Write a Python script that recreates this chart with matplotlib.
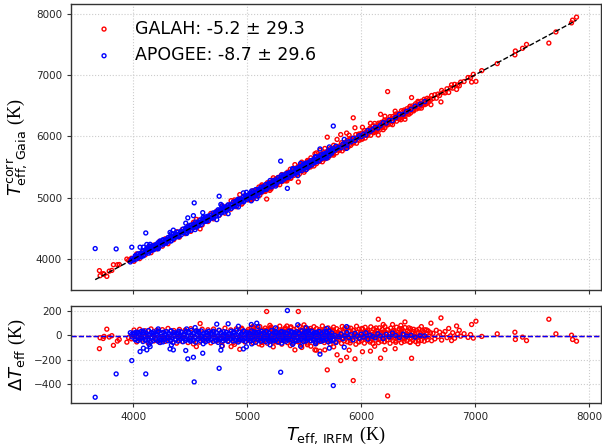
import numpy as np
import matplotlib
matplotlib.use("Agg")
import matplotlib.pyplot as plt

plt.rcParams['mathtext.fontset'] = 'custom'
plt.rcParams['mathtext.it'] = 'DejaVu Sans:italic'
plt.rcParams['mathtext.sf'] = 'DejaVu Sans'
plt.rcParams['mathtext.rm'] = 'Liberation Serif'

# ---- APOGEE (blue): IRFM Teff and dTeff = IRFM - Gaia ----
apogee_irfm_a = [4005, 4027, 4048, 4071, 4092, 4115, 4136, 4160, 4181, 4203,
                 4224, 4247, 4268, 4291, 4313, 4334, 4357, 4379, 4400, 4423,
                 4445, 4466, 4489, 4511, 4532, 4555, 4577, 4598, 4621, 4643,
                 4664, 4687, 4709, 4730, 4753, 4775, 4796, 4819, 4841, 4862,
                 4885, 4907, 4928, 4951, 4973, 4994, 5017, 5039, 5060, 5083,
                 5105, 5126, 5149, 5171, 5192, 5215, 5237, 5258, 5281, 5303,
                 5324, 5347, 5369, 5390, 5413, 5435, 5456, 5479, 5501, 5522,
                 5545, 5567, 5588, 5611, 5633, 5654, 5677, 5699, 5720, 5743]
apogee_dt_a = [18, 25, 12, 31, 22, 15, 38, 20, 27, 11,
               34, 19, 24, 29, 14, 36, 21, 17, 33, 26,
               12, 30, 23, 39, 16, 28, 20, 35, 13, 25,
               31, 18, 27, 22, 40, 15, 29, 24, 11, 33,
               20, 37, 26, 14, 30, 22, 18, 35, 27, 12,
               24, 32, 19, 28, 15, 38, 21, 26, 13, 31,
               23, 17, 34, 25, 20, 29, 14, 36, 22, 27,
               16, 33, 19, 24, 30, 12, 28, 21, 35, 18]

apogee_irfm_b = [4012, 4035, 4057, 4078, 4101, 4123, 4144, 4167, 4189, 4210,
                 4233, 4255, 4276, 4299, 4321, 4342, 4365, 4387, 4408, 4431,
                 4453, 4474, 4497, 4519, 4540, 4563, 4585, 4606, 4629, 4651,
                 4672, 4695, 4717, 4738, 4761, 4783, 4804, 4827, 4849, 4870,
                 4893, 4915, 4936, 4959, 4981, 5002, 5025, 5047, 5068, 5091,
                 5113, 5134, 5157, 5179, 5200, 5223, 5245, 5266, 5289, 5311,
                 5332, 5355, 5377, 5398, 5421, 5443, 5464, 5487, 5509, 5530,
                 5553, 5575, 5596, 5619, 5641, 5662, 5685, 5707, 5728, 5751,
                 5773, 5796]
apogee_dt_b = [-8, -15, 2, -20, -5, -12, 4, -18, -9, -2,
               -24, -11, 0, -16, -7, -21, 3, -13, -6, -19,
               -1, -10, -23, -4, -14, 1, -17, -8, -22, -3,
               -12, 5, -15, -7, -20, -2, -11, -25, -6, -14,
               0, -18, -9, -4, -21, -13, 2, -16, -7, -10,
               -23, -1, -12, -5, -19, 3, -15, -8, -11, -24,
               -3, -17, -6, -13, 1, -20, -9, -2, -14, -22,
               -5, -10, 4, -18, -7, -12, -16, -1, -21, -8,
               -4, -13]

apogee_irfm_c = [4019, 4042, 4063, 4086, 4108, 4130, 4152, 4174, 4196, 4218,
                 4240, 4262, 4284, 4306, 4328, 4350, 4372, 4394, 4416, 4438,
                 4460, 4482, 4504, 4526, 4548, 4570, 4592, 4614, 4636, 4658,
                 4680, 4702, 4724, 4746, 4768, 4790, 4812, 4834, 4856, 4878,
                 4900, 4922, 4944, 4966, 4988, 5010, 5032, 5054, 5076, 5098,
                 5120, 5142, 5164, 5186, 5208, 5230, 5252, 5274, 5296, 5318,
                 5340, 5362, 5384, 5406, 5428, 5450, 5472, 5494, 5516, 5538,
                 5560, 5582, 5604, 5626, 5648, 5670, 5692, 5714, 5736, 5758,
                 5780]
apogee_dt_c = [-38, -45, -32, -52, -41, -36, -58, -43, -34, -49,
               -39, -55, -31, -46, -42, -60, -37, -48, -33, -53,
               -44, -35, -50, -40, -57, -32, -47, -38, -54, -43,
               -36, -51, -41, -59, -34, -46, -39, -52, -31, -48,
               -44, -56, -37, -42, -50, -33, -45, -40, -58, -35,
               -49, -38, -53, -43, -32, -47, -41, -55, -36, -44,
               -51, -39, -34, -57, -46, -42, -37, -52, -48, -33,
               -45, -40, -56, -38, -50, -43, -35, -54, -47, -41,
               -60]

apogee_irfm_d = [4001, 4023, 4045, 4067, 4089, 4111, 4133, 4155, 4177, 4199,
                 4221, 4243, 4265, 4287, 4309, 4331, 4353, 4375, 4397, 4419,
                 4441, 4463, 4485, 4507, 4529, 4551, 4573, 4595, 4617, 4639,
                 4661, 4683, 4705, 4727, 4749, 4771, 4793, 4815, 4837, 4859,
                 4881, 4903, 4925, 4947, 4969, 4991, 5013, 5035, 5057, 5079,
                 5101, 5123, 5145, 5167, 5189, 5211, 5233, 5255, 5277, 5299,
                 5321, 5343, 5365, 5387, 5409, 5431, 5453, 5475, 5497, 5519,
                 5541, 5563, 5585, 5607, 5629, 5651, 5673, 5695, 5717, 5739]
apogee_dt_d = [8, -30, 22, -18, 35, -40, 5, -25, 14, -35,
               28, -12, -38, 10, -22, 32, -5, -33, 19, -15,
               3, -28, 25, -40, 12, -20, 30, -8, -36, 16,
               -26, 6, 33, -17, -39, 21, -3, -31, 11, -24,
               27, -14, -37, 4, 35, -21, 15, -29, -6, 24,
               -34, 9, -19, 31, -27, 1, -38, 18, -11, 26,
               -23, 13, -32, 29, -7, -40, 20, -16, 2, -30,
               34, -9, -25, 17, -36, 7, -20, 28, -13, -4]

apogee_irfm_tail = [5808, 5825, 5841, 5860, 5876, 5893, 5912, 5930, 5948, 5967,
                    5985, 6004, 6022, 6043, 6061, 6082, 6103, 6125, 6148, 6170,
                    6195, 6221, 6248, 6276, 6305, 6337, 6370, 6400, 6438, 6475,
                    6520, 6561]
apogee_dt_tail = [-12, 10, -30, -5, 22, -20, 3, -38, 15, -8,
                  -25, 8, -15, 20, -32, 0, -10, -22, 12, -5,
                  -28, 6, -14, 18, -3, -20, 9, -8, -1, -16,
                  -4, -6]

apogee_irfm_out = [3667, 3851, 3988, 3985, 3993, 3975, 4061, 4090, 4120, 4149,
                   4111, 4140, 4220, 4237, 4324, 4353, 4336, 4462, 4470, 4480,
                   4529, 4536, 4544, 4611, 4615, 4734, 4755, 4770, 4778, 4834,
                   4924, 4968, 4994, 5037, 5041, 5085, 5096, 5202, 5250, 5295,
                   5304, 5354, 5400, 5445, 5470, 5520, 5640, 5722, 5757, 5853,
                   5874, 5700, 5600]
apogee_dt_out = [-506, -316, -207, 5, -15, 20, -134, -106, -120, -93,
                 -316, -75, 51, -60, -112, -120, -80, -125, 51, -193,
                 -180, -381, 62, -147, -70, 90, -270, -122, -90, 93,
                 73, -112, -95, 87, -71, 98, 70, -79, 60, -302,
                 -65, 201, -75, 85, -90, 60, -155, -106, -411, -98,
                 70, 55, -70]

# ---- GALAH (red) ----
galah_irfm_r1 = [5010, 5036, 5061, 5085, 5112, 5137, 5160, 5186, 5211, 5235,
                 5262, 5287, 5310, 5336, 5361, 5385, 5412, 5437, 5460, 5486,
                 5511, 5535, 5562, 5587, 5610, 5636, 5661, 5685, 5712, 5737,
                 5760, 5786, 5811, 5835, 5862, 5887, 5910, 5936, 5961, 5985,
                 6012, 6037, 6060, 6086, 6111, 6135, 6162, 6187, 6210, 6236,
                 6261, 6285, 6312, 6337, 6360, 6386, 6411, 6435, 6462, 6487,
                 6510, 6536, 6561, 6590]
galah_dt_r1 = [45, 62, 38, 55, 70, 41, 58, 49, 66, 36,
               52, 74, 43, 60, 39, 68, 47, 56, 72, 40,
               63, 50, 37, 69, 54, 44, 75, 48, 59, 42,
               66, 53, 38, 71, 46, 61, 57, 40, 73, 49,
               55, 64, 42, 68, 51, 37, 60, 47, 70, 44,
               58, 39, 65, 52, 45, 62, 36, 54, 48, 41,
               50, 38, 44, 35]

galah_irfm_r2 = [5022, 5048, 5073, 5098, 5124, 5149, 5173, 5199, 5223, 5248,
                 5274, 5299, 5323, 5349, 5373, 5398, 5424, 5449, 5473, 5499,
                 5523, 5548, 5574, 5599, 5623, 5649, 5673, 5698, 5724, 5749,
                 5773, 5799, 5823, 5848, 5874, 5899, 5923, 5949, 5973, 5998,
                 6024, 6049, 6073, 6099, 6123, 6148, 6174, 6199, 6223, 6249,
                 6274, 6299, 6323, 6349, 6373, 6398, 6424, 6449, 6473, 6499,
                 6524, 6549, 6575, 6610]
galah_dt_r2 = [12, 28, 7, 21, 33, 15, 9, 26, 18, 31,
               6, 23, 14, 35, 10, 27, 19, 8, 30, 16,
               24, 11, 34, 20, 5, 29, 13, 25, 17, 32,
               9, 22, 15, 28, 7, 34, 19, 12, 26, 21,
               14, 31, 8, 24, 17, 35, 10, 27, 20, 6,
               29, 13, 23, 16, 33, 11, 25, 18, 9, 22,
               15, 27, 12, 20]

galah_irfm_r3 = [5016, 5042, 5067, 5092, 5118, 5143, 5166, 5192, 5217, 5242,
                 5268, 5293, 5316, 5342, 5367, 5392, 5418, 5443, 5466, 5492,
                 5517, 5542, 5568, 5593, 5616, 5642, 5667, 5692, 5718, 5743,
                 5766, 5792, 5817, 5842, 5868, 5893, 5916, 5942, 5967, 5992,
                 6018, 6043, 6066, 6092, 6117, 6142, 6168, 6193, 6216, 6242,
                 6267, 6292, 6318, 6343, 6366, 6392, 6417, 6442, 6468, 6493,
                 6517, 6542, 6568, 6598]
galah_dt_r3 = [-5, -22, -12, -28, -2, -17, -9, -25, -14, -30,
               -7, -19, -1, -26, -11, -21, -4, -15, -29, -8,
               -23, -13, -3, -27, -18, -10, -24, -6, -20, -16,
               -1, -28, -12, -22, -7, -19, -26, -4, -14, -30,
               -9, -21, -3, -25, -16, -11, -29, -6, -18, -13,
               -24, -2, -20, -8, -27, -15, -5, -23, -10, -17,
               -12, -4, -19, -8]

galah_irfm_r4 = [5028, 5054, 5079, 5104, 5130, 5155, 5179, 5205, 5229, 5254,
                 5280, 5305, 5329, 5355, 5379, 5404, 5430, 5455, 5479, 5505,
                 5529, 5554, 5580, 5605, 5629, 5655, 5679, 5704, 5730, 5755,
                 5779, 5805, 5829, 5854, 5880, 5905, 5929, 5955, 5979, 6004,
                 6030, 6055, 6079, 6105, 6129, 6154, 6180, 6205, 6229, 6255,
                 6280, 6305, 6329, 6355, 6379, 6404, 6430, 6455, 6479, 6505,
                 6530, 6555, 6582, 6620]
galah_dt_r4 = [-45, -62, -38, -71, -52, -40, -66, -48, -58, -36,
               -55, -73, -43, -61, -39, -68, -50, -57, -75, -42,
               -64, -47, -37, -70, -53, -44, -60, -49, -72, -41,
               -59, -35, -67, -46, -54, -63, -38, -74, -51, -45,
               -65, -42, -56, -69, -40, -61, -48, -53, -37, -66,
               -44, -58, -39, -62, -50, -46, -55, -41, -52, -47,
               -43, -49, -38, -45]

galah_irfm_r5 = [5003, 5030, 5057, 5082, 5107, 5132, 5157, 5182, 5207, 5232,
                 5257, 5282, 5307, 5332, 5357, 5382, 5407, 5432, 5457, 5482,
                 5507, 5532, 5557, 5582, 5607, 5632, 5657, 5682, 5707, 5732,
                 5757, 5782, 5807, 5832, 5857, 5882, 5907, 5932, 5957, 5982,
                 6007, 6032, 6057, 6082, 6107, 6132, 6157, 6182, 6207, 6232,
                 6257, 6282, 6307, 6332, 6357, 6382, 6407, 6432, 6457, 6482]
galah_dt_r5 = [30, -48, 58, -15, 3, -60, 40, -33, 52, -22,
               -55, 25, -8, 47, -40, 60, -27, 10, -52, 36,
               18, -44, 55, -3, -58, 33, -20, 49, -37, 6,
               42, -50, 14, -29, 57, -12, -46, 38, -1, -56,
               51, -24, 27, -42, 8, 59, -35, 21, -53, 44,
               -18, 35, -47, 12, 53, -30, 2, -59, 29, -10]

galah_irfm_low = [4008, 4031, 4057, 4082, 4106, 4131, 4157, 4182, 4206, 4231,
                  4257, 4282, 4306, 4331, 4357, 4382, 4406, 4431, 4457, 4482,
                  4506, 4531, 4557, 4582, 4606, 4631, 4657, 4682, 4706, 4731,
                  4757, 4782, 4806, 4831, 4857, 4882, 4906, 4931, 4957, 4982]
galah_dt_low = [42, -55, 48, -40, 36, -62, 51, -47, 39, -58,
                45, -50, 55, -44, 38, -65, 47, -52, 41, -60,
                53, -46, 37, -57, 49, -41, 44, -63, 50, -48,
                40, -54, 57, -45, 43, -59, 52, -49, 46, -56]

galah_irfm_hot = [6632, 6648, 6661, 6676, 6690, 6708, 6722, 6738, 6755, 6770,
                  6786, 6805, 6822, 6848, 6875, 6905, 6940, 6962]
galah_dt_hot = [15, -30, 40, -12, 25, -40, 8, 30, -20, 55,
                -5, 20, -25, 10, -8, 12, -18, 5]

galah_irfm_out = [3704, 3710, 3737, 3745, 3769, 3790, 3813, 3827, 3862, 3878,
                  3945, 3960, 3985, 4105, 4529, 4555, 4588, 4783, 4860, 4936,
                  4953, 5172, 5272, 5450, 5500, 5596, 5608, 5640, 5683, 5704,
                  5760, 5790, 5822, 5874, 5896, 5932, 5947, 6013, 6083, 6120,
                  6152, 6172, 6195, 6210, 6234, 6277, 6300, 6350, 6386, 6420,
                  6444, 6500, 6530, 6576, 6614, 6702, 6795, 6839, 6863, 6971,
                  7009, 6986, 7060, 7196, 7351, 7355, 7418, 7453, 7649, 7711,
                  7848, 7857, 7892, 4890, 5130, 5230, 5380, 5420, 5480, 5530,
                  5560, 5350, 5200, 5050]
galah_dt_out = [-110, -21, -27, -10, 49, -15, -4, -83, -48, -35,
                -57, -20, -30, -14, -71, -93, 95, -87, -93, -115,
                57, 193, -57, 193, 84, -120, -122, -130, -120, -283,
                -95, -160, -207, -180, -122, -370, -193, -135, -130, -90,
                130, -187, 87, -118, -495, 87, -110, 80, 108, 60,
                -188, -70, 70, 43, 98, 141, -44, 75, 40, 87,
                114, -24, -10, 11, 24, -35, -16, -44, 130, 11,
                0, -35, -49, -75, -80, -95, -85, -120, -100, -78,
                -90, 75, 80, 70]

galah_label = 'GALAH: -5.2 ± 29.3'
apogee_label = 'APOGEE: -8.7 ± 29.6'
galah_mean = -5.2
apogee_mean = -8.7

galah_irfm = np.array(galah_irfm_low + galah_irfm_r1 + galah_irfm_r2 + galah_irfm_r3
                      + galah_irfm_r4 + galah_irfm_r5 + galah_irfm_hot + galah_irfm_out, float)
galah_dt = np.array(galah_dt_low + galah_dt_r1 + galah_dt_r2 + galah_dt_r3
                    + galah_dt_r4 + galah_dt_r5 + galah_dt_hot + galah_dt_out, float)
apogee_irfm = np.array(apogee_irfm_a + apogee_irfm_b + apogee_irfm_c + apogee_irfm_d
                       + apogee_irfm_tail + apogee_irfm_out, float)
apogee_dt = np.array(apogee_dt_a + apogee_dt_b + apogee_dt_c + apogee_dt_d
                     + apogee_dt_tail + apogee_dt_out, float)

galah_gaia = galah_irfm - galah_dt
apogee_gaia = apogee_irfm - apogee_dt

fig = plt.figure(figsize=(6.02, 4.46), dpi=100)
ax1 = fig.add_axes([0.118, 0.350, 0.880, 0.641])
ax2 = fig.add_axes([0.118, 0.0964, 0.880, 0.2175])

mk = dict(s=8, facecolors='none', linewidths=1.0, alpha=1.0)
ax1.scatter(galah_irfm, galah_gaia, edgecolors='r', label=galah_label, **mk)
ax1.scatter(apogee_irfm, apogee_gaia, edgecolors='b', label=apogee_label, **mk)
allx = np.concatenate([galah_irfm, apogee_irfm])
ax1.plot([allx.min(), allx.max()], [allx.min(), allx.max()], 'k--', lw=1)

ax2.scatter(galah_irfm, galah_dt, edgecolors='r', **mk)
ax2.scatter(apogee_irfm, apogee_dt, edgecolors='b', **mk)
ax2.axhline(galah_mean, color='r', ls='--', lw=1)
ax2.axhline(apogee_mean, color='b', ls='--', lw=1)

for ax in (ax1, ax2):
    ax.set_xlim(3455, 8105)
    ax.set_xticks([4000, 5000, 6000, 7000, 8000])
    ax.grid(True, ls=':', color='0.8', lw=0.8)
    ax.set_axisbelow(True)
    ax.tick_params(labelsize=7.5, length=3, width=0.8, color='0.2', labelcolor='0.15')
    for sp in ax.spines.values():
        sp.set_color('0.2')
        sp.set_linewidth(1)

ax1.set_ylim(3500, 8155)
ax1.set_yticks([4000, 5000, 6000, 7000, 8000])
ax1.tick_params(labelbottom=False)
ax2.set_ylim(-553, 238)
ax2.set_yticks([-400, -200, 0, 200])

ax1.set_ylabel(r'$T^{\mathsf{corr}}_{\mathsf{eff,\,Gaia}}\ \mathrm{(K)}$', fontsize=13)
ax2.set_ylabel('Δ' + r'$T_{\mathsf{eff}}\ \mathrm{(K)}$', fontsize=13)
ax2.set_xlabel(r'$T_{\mathsf{eff,\,IRFM}}\ \mathrm{(K)}$', fontsize=13, labelpad=2)

ax1.legend(loc='upper left', frameon=False, fontsize=12.5, scatterpoints=1)

fig.savefig('out.png', dpi=100)
